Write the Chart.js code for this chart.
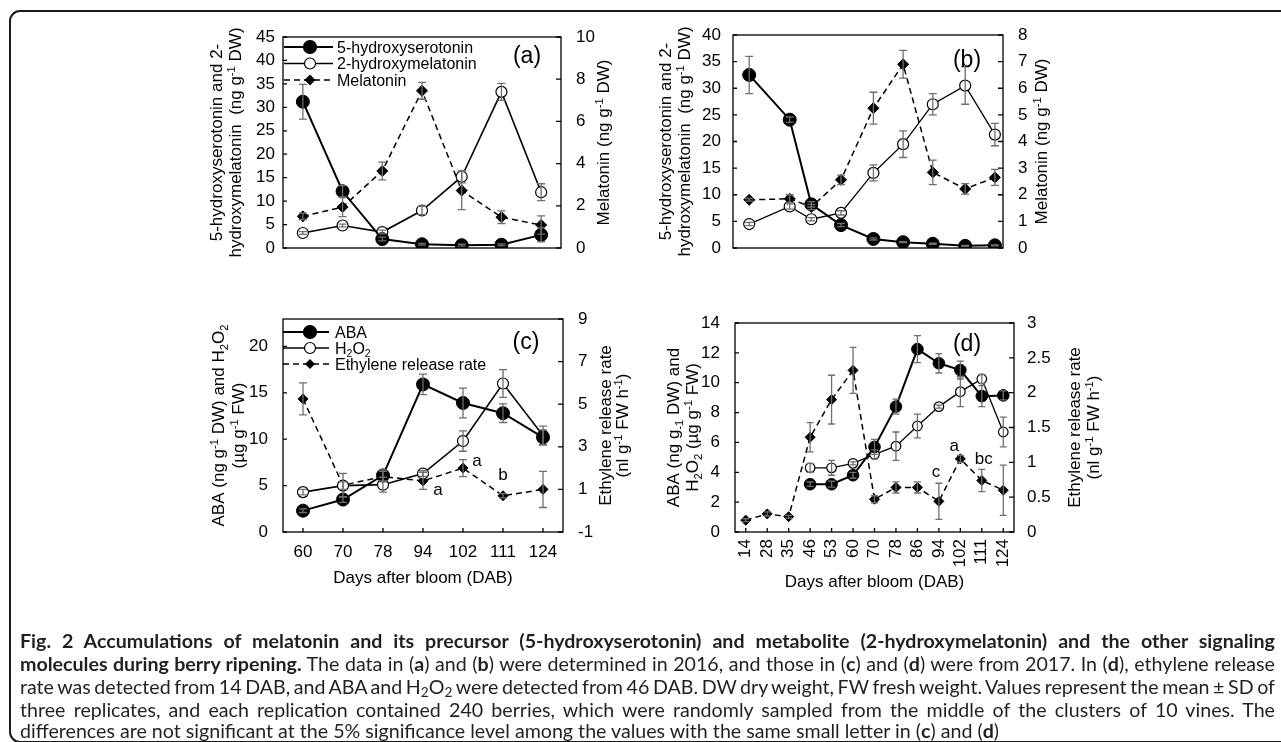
<!DOCTYPE html>
<html><head><meta charset="utf-8">
<script src="https://cdn.jsdelivr.net/npm/chart.js@4.4.0/dist/chart.umd.min.js"></script>
<style>
html,body{margin:0;padding:0;background:#fff;width:1281px;height:742px;overflow:hidden;}
#frame{position:absolute;left:9px;top:10px;width:1330px;height:733px;border:2px solid #1a1a1a;border-radius:11px;box-sizing:border-box;}
canvas{position:absolute;left:0;top:0;}
#cap{position:absolute;left:20px;top:0;font-family:Lato,'Open Sans',sans-serif;font-size:17px;color:#231f20;}
#cap div{position:absolute;left:0;white-space:nowrap;line-height:22px;height:22px;}
#cap sub{font-size:0.7em;vertical-align:-0.25em;line-height:0;}
</style></head><body>
<div id="frame"></div>
<canvas id="ca" width="1281" height="742"></canvas>
<canvas id="cb" width="1281" height="742"></canvas>
<canvas id="cc" width="1281" height="742"></canvas>
<canvas id="cd" width="1281" height="742"></canvas>
<div id="cap">
<div style="top:630px"><span><b>Fig. 2 Accumulations of melatonin and its precursor (5-hydroxyserotonin) and metabolite (2-hydroxymelatonin) and the other signaling</b></span></div>
<div style="top:653px"><span><b>molecules during berry ripening.</b> The data in (<b>a</b>) and (<b>b</b>) were determined in 2016, and those in (<b>c</b>) and (<b>d</b>) were from 2017. In (<b>d</b>), ethylene release</span></div>
<div style="top:676px"><span>rate was detected from 14 DAB, and ABA and H<sub>2</sub>O<sub>2</sub> were detected from 46 DAB. DW dry weight, FW fresh weight. Values represent the mean ± SD of</span></div>
<div style="top:699px"><span>three replicates, and each replication contained 240 berries, which were randomly sampled from the middle of the clusters of 10 vines. The</span></div>
<div style="top:720px"><span>differences are not significant at the 5% significance level among the values with the same small letter in (<b>c</b>) and (<b>d</b>)</span></div>
</div>
<script>
// ---------------- DATA ----------------
// Panel (a) - 2016
const samplesA = ['1','2','3','4','5','6','7'];
const hydroxyserotoninA = [31.2, 12.1, 1.9, 0.8, 0.6, 0.7, 2.8];
const hydroxyserotoninErrA = [3.7, 1.2, 0.4, 0.2, 0.2, 0.2, 1.5];
const hydroxymelatoninA = [3.2, 4.8, 3.4, 8.0, 15.2, 33.3, 11.9];
const hydroxymelatoninErrA = [0.3, 0.3, 0.4, 0.9, 1.3, 1.8, 1.8];
const melatoninA = [1.5, 1.94, 3.65, 7.45, 2.72, 1.46, 1.09];
const melatoninErrA = [0.15, 0.45, 0.42, 0.4, 0.9, 0.3, 0.43];
const leftTicksA = [0, 5, 10, 15, 20, 25, 30, 35, 40, 45];
const rightTicksA = [0, 2, 4, 6, 8, 10];

// Panel (b) - 2016 (sampling days, axis hidden)
const daysB = [36, 51, 59, 70, 82, 93, 104, 116, 127];
const hydroxyserotoninB = [32.5, 24.1, 8.2, 4.3, 1.7, 1.1, 0.8, 0.4, 0.5];
const hydroxyserotoninErrB = [3.5, 0.5, 0.5, 0.3, 0.2, 0.1, 0.1, 0.1, 0.1];
const hydroxymelatoninB = [4.5, 7.8, 5.4, 6.6, 14.1, 19.5, 27.0, 30.5, 21.3];
const hydroxymelatoninErrB = [0.3, 0.5, 0.3, 0.4, 1.5, 2.5, 2.0, 3.5, 2.1];
const melatoninB = [1.81, 1.85, 1.54, 2.56, 5.25, 6.9, 2.84, 2.22, 2.65];
const melatoninErrB = [0.05, 0.15, 0.1, 0.18, 0.6, 0.52, 0.46, 0.2, 0.3];
const leftTicksB = [0, 5, 10, 15, 20, 25, 30, 35, 40];
const rightTicksB = [0, 1, 2, 3, 4, 5, 6, 7, 8];

// Panel (c) - 2017
const daysC = ['60', '70', '78', '94', '102', '111', '124'];
const abaC = [2.3, 3.5, 6.1, 15.9, 13.9, 12.8, 10.2];
const abaErrC = [0.2, 0.3, 0.6, 1.1, 1.6, 1.0, 0.8];
const h2o2C = [4.3, 5.0, 5.1, 6.3, 9.8, 16.0, 10.4];
const h2o2ErrC = [0.3, 0.4, 0.8, 0.3, 1.1, 1.5, 1.0];
const ethyleneC = [5.25, 1.2, 1.6, 1.4, 2.0, 0.7, 1.0];
const ethyleneErrC = [0.75, 0.55, 0.25, 0.4, 0.4, 0.1, 0.85];
const lettersC = [null, null, null, 'a', 'a', 'b', null];
const leftTicksC = [0, 5, 10, 15, 20];
const rightTicksC = [-1, 1, 3, 5, 7, 9];

// Panel (d) - 2017
const daysD = ['14', '28', '35', '46', '53', '60', '70', '78', '86', '94', '102', '111', '124'];
const abaD = [null, null, null, 3.2, 3.2, 3.8, 5.7, 8.4, 12.25, 11.3, 10.85, 9.1, 9.15];
const abaErrD = [null, null, null, 0.15, 0.2, 0.2, 0.5, 0.5, 0.9, 0.65, 0.6, 0.7, 0.3];
const h2o2D = [null, null, null, 4.3, 4.3, 4.6, 5.2, 5.75, 7.1, 8.4, 9.4, 10.25, 6.7];
const h2o2ErrD = [null, null, null, 0.3, 0.5, 0.1, 0.3, 0.95, 0.8, 0.1, 1.0, 0.3, 1.0];
const ethyleneD = [0.17, 0.26, 0.22, 1.36, 1.9, 2.32, 0.47, 0.64, 0.64, 0.44, 1.05, 0.74, 0.6];
const ethyleneErrD = [0.02, 0.03, 0.02, 0.21, 0.35, 0.33, 0.05, 0.08, 0.08, 0.26, 0.05, 0.16, 0.36];
const lettersD = [null, null, null, null, null, null, null, null, null, 'c', 'a', 'bc', null];
const leftTicksD = [0, 2, 4, 6, 8, 10, 12, 14];
const rightTicksD = [0, 0.5, 1, 1.5, 2, 2.5, 3];

// ---------------- RENDERING ----------------
const F = "'Liberation Sans', Arial, sans-serif";
const W = 1281, H = 742;

function richParse(s){
  const out=[]; const re=/\^\{([^}]*)\}|_\{([^}]*)\}/g; let last=0, m;
  while((m=re.exec(s))){
    if(m.index>last) out.push({t:s.slice(last,m.index),k:0});
    if(m[1]!==undefined) out.push({t:m[1],k:1}); else out.push({t:m[2],k:-1});
    last=re.lastIndex;
  }
  if(last<s.length) out.push({t:s.slice(last),k:0});
  return out;
}
function drawRich(ctx, s, x, y, size, align){
  const segs=richParse(s), small=size*0.66;
  let w=0;
  segs.forEach(g=>{ctx.font=(g.k?small:size)+'px '+F; g.w=ctx.measureText(g.t).width; w+=g.w;});
  let cx = align==='left' ? x : x-w/2;
  ctx.textAlign='left'; ctx.textBaseline='alphabetic';
  const base=y+size*0.36;
  segs.forEach(g=>{
    ctx.font=(g.k?small:size)+'px '+F;
    const dy = g.k===1 ? -size*0.38 : (g.k===-1 ? size*0.2 : 0);
    ctx.fillText(g.t, cx, base+dy); cx+=g.w;
  });
}
function drawRichV(ctx, s, x, y, size){
  ctx.save(); ctx.translate(x,y); ctx.rotate(-Math.PI/2); drawRich(ctx,s,0,0,size,'center'); ctx.restore();
}
function drawMarker(ctx, type, x, y, r){
  ctx.save(); ctx.setLineDash([]);
  ctx.beginPath();
  if(type==='diamond'){ ctx.moveTo(x,y-r); ctx.lineTo(x+r,y); ctx.lineTo(x,y+r); ctx.lineTo(x-r,y); ctx.closePath(); ctx.fillStyle='#000'; ctx.fill(); }
  else { ctx.arc(x,y,r,0,Math.PI*2); ctx.fillStyle = type==='filled' ? '#000' : '#fff'; ctx.fill(); ctx.lineWidth=1.2; ctx.strokeStyle='#000'; ctx.stroke(); }
  ctx.restore();
}

function makeDecor(cfg){
  return {
    id:'decor',
    afterDatasetsDraw(chart){
      const ctx=chart.ctx; ctx.save(); ctx.strokeStyle='#6f6f6f'; ctx.lineWidth=1.3; ctx.setLineDash([]);
      chart.data.datasets.forEach((ds,di)=>{
        if(!ds.errors) return;
        const meta=chart.getDatasetMeta(di), ys=chart.scales[ds.yAxisID];
        meta.data.forEach((pt,i)=>{
          const d=ds.data[i]; const v=(d!==null&&typeof d==='object')?d.y:d; const e=ds.errors[i];
          if(v==null||!e) return;
          const x=pt.x, yt=ys.getPixelForValue(v+e), yb=ys.getPixelForValue(v-e), c=cfg.cap;
          ctx.beginPath(); ctx.moveTo(x,yt); ctx.lineTo(x,yb);
          ctx.moveTo(x-c,yt); ctx.lineTo(x+c,yt); ctx.moveTo(x-c,yb); ctx.lineTo(x+c,yb); ctx.stroke();
        });
      });
      ctx.restore();
    },
    afterDraw(chart){
      const ctx=chart.ctx, a=chart.chartArea;
      ctx.save();
      ctx.strokeStyle='#000'; ctx.lineWidth=1.3; ctx.setLineDash([]);
      ctx.strokeRect(a.left,a.top,a.right-a.left,a.bottom-a.top);
      ctx.beginPath();
      const ys=chart.scales.y, y1=chart.scales.y1;
      ys.ticks.forEach(t=>{const y=ys.getPixelForValue(t.value); ctx.moveTo(a.left,y); ctx.lineTo(a.left+4,y);});
      y1.ticks.forEach(t=>{const y=y1.getPixelForValue(t.value); ctx.moveTo(a.right,y); ctx.lineTo(a.right-5,y);});
      if(cfg.xTicks){const xs=chart.scales.x; xs.ticks.forEach((t,i)=>{const x=xs.getPixelForTick(i); ctx.moveTo(x,a.bottom); ctx.lineTo(x,a.bottom-4);});}
      ctx.stroke();
      ctx.fillStyle='#000';
      const cy=(a.top+a.bottom)/2;
      cfg.leftTitle.forEach((s,i)=>drawRichV(ctx,s,a.left+cfg.leftDx[i],cy,17));
      cfg.rightTitle.forEach((s,i)=>drawRichV(ctx,s,a.right+cfg.rightDx[i],cy,17));
      if(cfg.xTitle) drawRich(ctx,cfg.xTitle,(a.left+a.right)/2,a.bottom+cfg.xTitleDy,17,'center');
      ctx.font='23px '+F; ctx.textAlign='center'; ctx.textBaseline='middle';
      ctx.fillText(cfg.panel,a.right+cfg.panelPos[0],a.top+cfg.panelPos[1]);
      if(cfg.legend){
        const L=cfg.legend;
        L.items.forEach((it,i)=>{
          const y=a.top+L.rows[i];
          ctx.save(); ctx.strokeStyle='#000'; ctx.lineWidth=it.lw; ctx.setLineDash(it.dash||[]);
          ctx.beginPath(); ctx.moveTo(a.left+L.x0,y); ctx.lineTo(a.left+L.x1,y); ctx.stroke(); ctx.restore();
          drawMarker(ctx,it.type,a.left+L.xm,y,it.r);
          ctx.fillStyle='#000';
          drawRich(ctx,it.text,a.left+L.xt,y,16,'left');
        });
      }
      if(cfg.letters){
        const meta=chart.getDatasetMeta(cfg.letters.dataset);
        cfg.letters.values.forEach((s,i)=>{
          if(!s) return;
          const pt=meta.data[i], off=cfg.letters.offsets[i];
          ctx.font='17px '+F; ctx.textAlign='center'; ctx.textBaseline='middle';
          ctx.fillText(s,pt.x+off[0],pt.y+off[1]);
        });
      }
      ctx.restore();
    }
  };
}

function yAxis(pos, ticksArr, pad, width){
  return {
    type:'linear', position:pos, min:ticksArr.min, max:ticksArr.max,
    grid:{display:false, drawTicks:false}, border:{display:false},
    ticks:{color:'#000', font:{family:F, size:17}, padding:pad, autoSkip:false, callback:v=>String(v)},
    afterBuildTicks:s=>{s.ticks=ticksArr.vals.map(v=>({value:v}));},
    afterFit:s=>{s.width=width;}
  };
}

function styleFilled(r,lw){return {borderColor:'#000',backgroundColor:'#000',borderWidth:lw,pointStyle:'circle',pointRadius:r,pointHoverRadius:r,pointBackgroundColor:'#000',pointBorderColor:'#000',pointBorderWidth:1};}
function styleOpen(r,lw){return {borderColor:'#000',backgroundColor:'#fff',borderWidth:lw,pointStyle:'circle',pointRadius:r,pointHoverRadius:r,pointBackgroundColor:'#fff',pointBorderColor:'#000',pointBorderWidth:1.2};}
function styleDiamond(r,lw){return {borderColor:'#000',backgroundColor:'#000',borderWidth:lw,borderDash:[6,4],pointStyle:'rectRot',pointRadius:r,pointHoverRadius:r,pointBackgroundColor:'#000',pointBorderColor:'#000',pointBorderWidth:1};}

function build(id, area, xScale, xH, datasets, labels, yL, yR, cfg){
  const yW=70, y1W=60;
  new Chart(document.getElementById(id), {
    type:'line',
    data:{labels:labels, datasets:datasets},
    options:{
      responsive:false, animation:false, devicePixelRatio:1,
      layout:{padding:{left:area.l-yW, right:W-area.r-y1W, top:area.t, bottom:H-area.b-xH}},
      plugins:{legend:{display:false}, tooltip:{enabled:false}},
      events:[],
      scales:{ x:Object.assign(xScale,{afterFit:s=>{s.height=xH;}}), y:yL, y1:yR }
    },
    plugins:[makeDecor(cfg)]
  });
}

const hiddenCat = {type:'category', offset:true, grid:{display:false,drawTicks:false}, border:{display:false}, ticks:{display:false}};

// Panel (a)
build('ca', {l:283,r:561,t:37,b:248}, Object.assign({},hiddenCat), 1,
  [
    Object.assign({label:'5-hydroxyserotonin', data:hydroxyserotoninA, errors:hydroxyserotoninErrA, yAxisID:'y'}, styleFilled(6.5,2)),
    Object.assign({label:'2-hydroxymelatonin', data:hydroxymelatoninA, errors:hydroxymelatoninErrA, yAxisID:'y'}, styleOpen(5.5,1.6)),
    Object.assign({label:'Melatonin', data:melatoninA, errors:melatoninErrA, yAxisID:'y1'}, styleDiamond(5.5,1.5))
  ], samplesA,
  yAxis('left',{min:0,max:45,vals:leftTicksA},8,70),
  yAxis('right',{min:0,max:10,vals:rightTicksA},15,60),
  {cap:4, xTicks:false,
   leftTitle:['5-hydroxyserotonin and 2-','hydroxymelatonin  (ng g^{-1} DW)'], leftDx:[-67,-48],
   rightTitle:['Melatonin (ng g^{-1} DW)'], rightDx:[42],
   panel:'(a)', panelPos:[-34,20],
   legend:{rows:[10,26.5,43], x0:1, x1:50, xm:27, xt:54, items:[
     {type:'filled', lw:2, r:6.5, text:'5-hydroxyserotonin'},
     {type:'open', lw:1.6, r:5.5, text:'2-hydroxymelatonin'},
     {type:'diamond', lw:1.5, r:5.5, dash:[6,4], text:'Melatonin'}]}
  });

// Panel (b)
build('cb', {l:733,r:1003,t:35,b:248},
  {type:'linear', min:30, max:130, grid:{display:false,drawTicks:false}, border:{display:false}, ticks:{display:false}}, 1,
  [
    Object.assign({label:'5-hydroxyserotonin', data:daysB.map((d,i)=>({x:d,y:hydroxyserotoninB[i]})), errors:hydroxyserotoninErrB, yAxisID:'y'}, styleFilled(6.5,2)),
    Object.assign({label:'2-hydroxymelatonin', data:daysB.map((d,i)=>({x:d,y:hydroxymelatoninB[i]})), errors:hydroxymelatoninErrB, yAxisID:'y'}, styleOpen(5.5,1.3)),
    Object.assign({label:'Melatonin', data:daysB.map((d,i)=>({x:d,y:melatoninB[i]})), errors:melatoninErrB, yAxisID:'y1'}, styleDiamond(5.5,1.5))
  ], undefined,
  yAxis('left',{min:0,max:40,vals:leftTicksB},12,70),
  yAxis('right',{min:0,max:8,vals:rightTicksB},15,60),
  {cap:4, xTicks:false,
   leftTitle:['5-hydroxyserotonin and 2-','hydroxymelatonin  (ng g^{-1} DW)'], leftDx:[-68,-49],
   rightTitle:['Melatonin (ng g^{-1} DW)'], rightDx:[38],
   panel:'(b)', panelPos:[-36,26]});

// Panel (c)
build('cc', {l:283,r:563,t:319,b:532},
  {type:'category', offset:true, grid:{display:false,drawTicks:false}, border:{display:false},
   ticks:{color:'#000', font:{family:F,size:17}, padding:10, autoSkip:false, maxRotation:0, minRotation:0}}, 40,
  [
    Object.assign({label:'ABA', data:abaC, errors:abaErrC, yAxisID:'y'}, styleFilled(6.5,2)),
    Object.assign({label:'H2O2', data:h2o2C, errors:h2o2ErrC, yAxisID:'y'}, styleOpen(5.5,1.6)),
    Object.assign({label:'Ethylene release rate', data:ethyleneC, errors:ethyleneErrC, yAxisID:'y1'}, styleDiamond(5,1.5))
  ], daysC,
  yAxis('left',{min:0,max:22.95,vals:leftTicksC},15,70),
  yAxis('right',{min:-1,max:9,vals:rightTicksC},15,60),
  {cap:4, xTicks:true,
   leftTitle:['ABA (ng g^{-1} DW) and H_{2}O_{2}','(\u00b5g g^{-1} FW)'], leftDx:[-65,-45],
   rightTitle:['Ethylene release rate','(nl g^{-1} FW h^{-1})'], rightDx:[42,59],
   xTitle:'Days after bloom (DAB)', xTitleDy:45,
   panel:'(c)', panelPos:[-37,24],
   legend:{rows:[13,29,45], x0:0, x1:46, xm:27, xt:52, items:[
     {type:'filled', lw:2, r:6.5, text:'ABA'},
     {type:'open', lw:1.6, r:5.5, text:'H_{2}O_{2}'},
     {type:'diamond', lw:1.5, r:5, dash:[6,4], text:'Ethylene release rate'}]},
   letters:{dataset:2, values:lettersC, offsets:[null,null,null,[15,9],[14,-7],[0,-20],null]}
  });

// Panel (d)
build('cd', {l:735,r:1014,t:323,b:532},
  {type:'category', offset:true, grid:{display:false,drawTicks:false}, border:{display:false},
   ticks:{color:'#000', font:{family:F,size:17}, padding:7, autoSkip:false, maxRotation:90, minRotation:90}}, 40,
  [
    Object.assign({label:'ABA', data:abaD, errors:abaErrD, yAxisID:'y'}, styleFilled(5.8,2)),
    Object.assign({label:'H2O2', data:h2o2D, errors:h2o2ErrD, yAxisID:'y'}, styleOpen(4.8,1.3)),
    Object.assign({label:'Ethylene release rate', data:ethyleneD, errors:ethyleneErrD, yAxisID:'y1'}, styleDiamond(5,1.5))
  ], daysD,
  yAxis('left',{min:0,max:14,vals:leftTicksD},15,70),
  yAxis('right',{min:0,max:3,vals:rightTicksD},13,60),
  {cap:3.5, xTicks:true,
   leftTitle:['ABA (ng g_{-1} DW) and','H_{2}O_{2} (\u00b5g g^{-1} FW)'], leftDx:[-62,-43],
   rightTitle:['Ethylene release rate','(nl g^{-1} FW h^{-1})'], rightDx:[60,79],
   xTitle:'Days after bloom (DAB)', xTitleDy:49,
   panel:'(d)', panelPos:[-47,22],
   letters:{dataset:2, values:lettersD, offsets:[null,null,null,null,null,null,null,null,null,[-3,-29],[-6,-13],[2,-21],null]}
  });

// caption fitting (justify lines to the frame width)
function fitCaption(){
  const cap=document.getElementById('cap');
  const spans=[...cap.querySelectorAll('span')];
  spans.forEach(s=>{s.style.wordSpacing='0px';});
  cap.style.fontSize='17px';
  const w5=spans[4].getBoundingClientRect().width;
  const fs=17*980/w5;
  cap.style.fontSize=fs.toFixed(2)+'px';
  for(let i=0;i<4;i++){
    const s=spans[i]; const w=s.getBoundingClientRect().width;
    const n=(s.textContent.match(/ /g)||[]).length;
    s.style.wordSpacing=((1255-w)/n).toFixed(3)+'px';
  }
}
fitCaption();
if(document.fonts&&document.fonts.ready) document.fonts.ready.then(fitCaption);
</script>
</body></html>
